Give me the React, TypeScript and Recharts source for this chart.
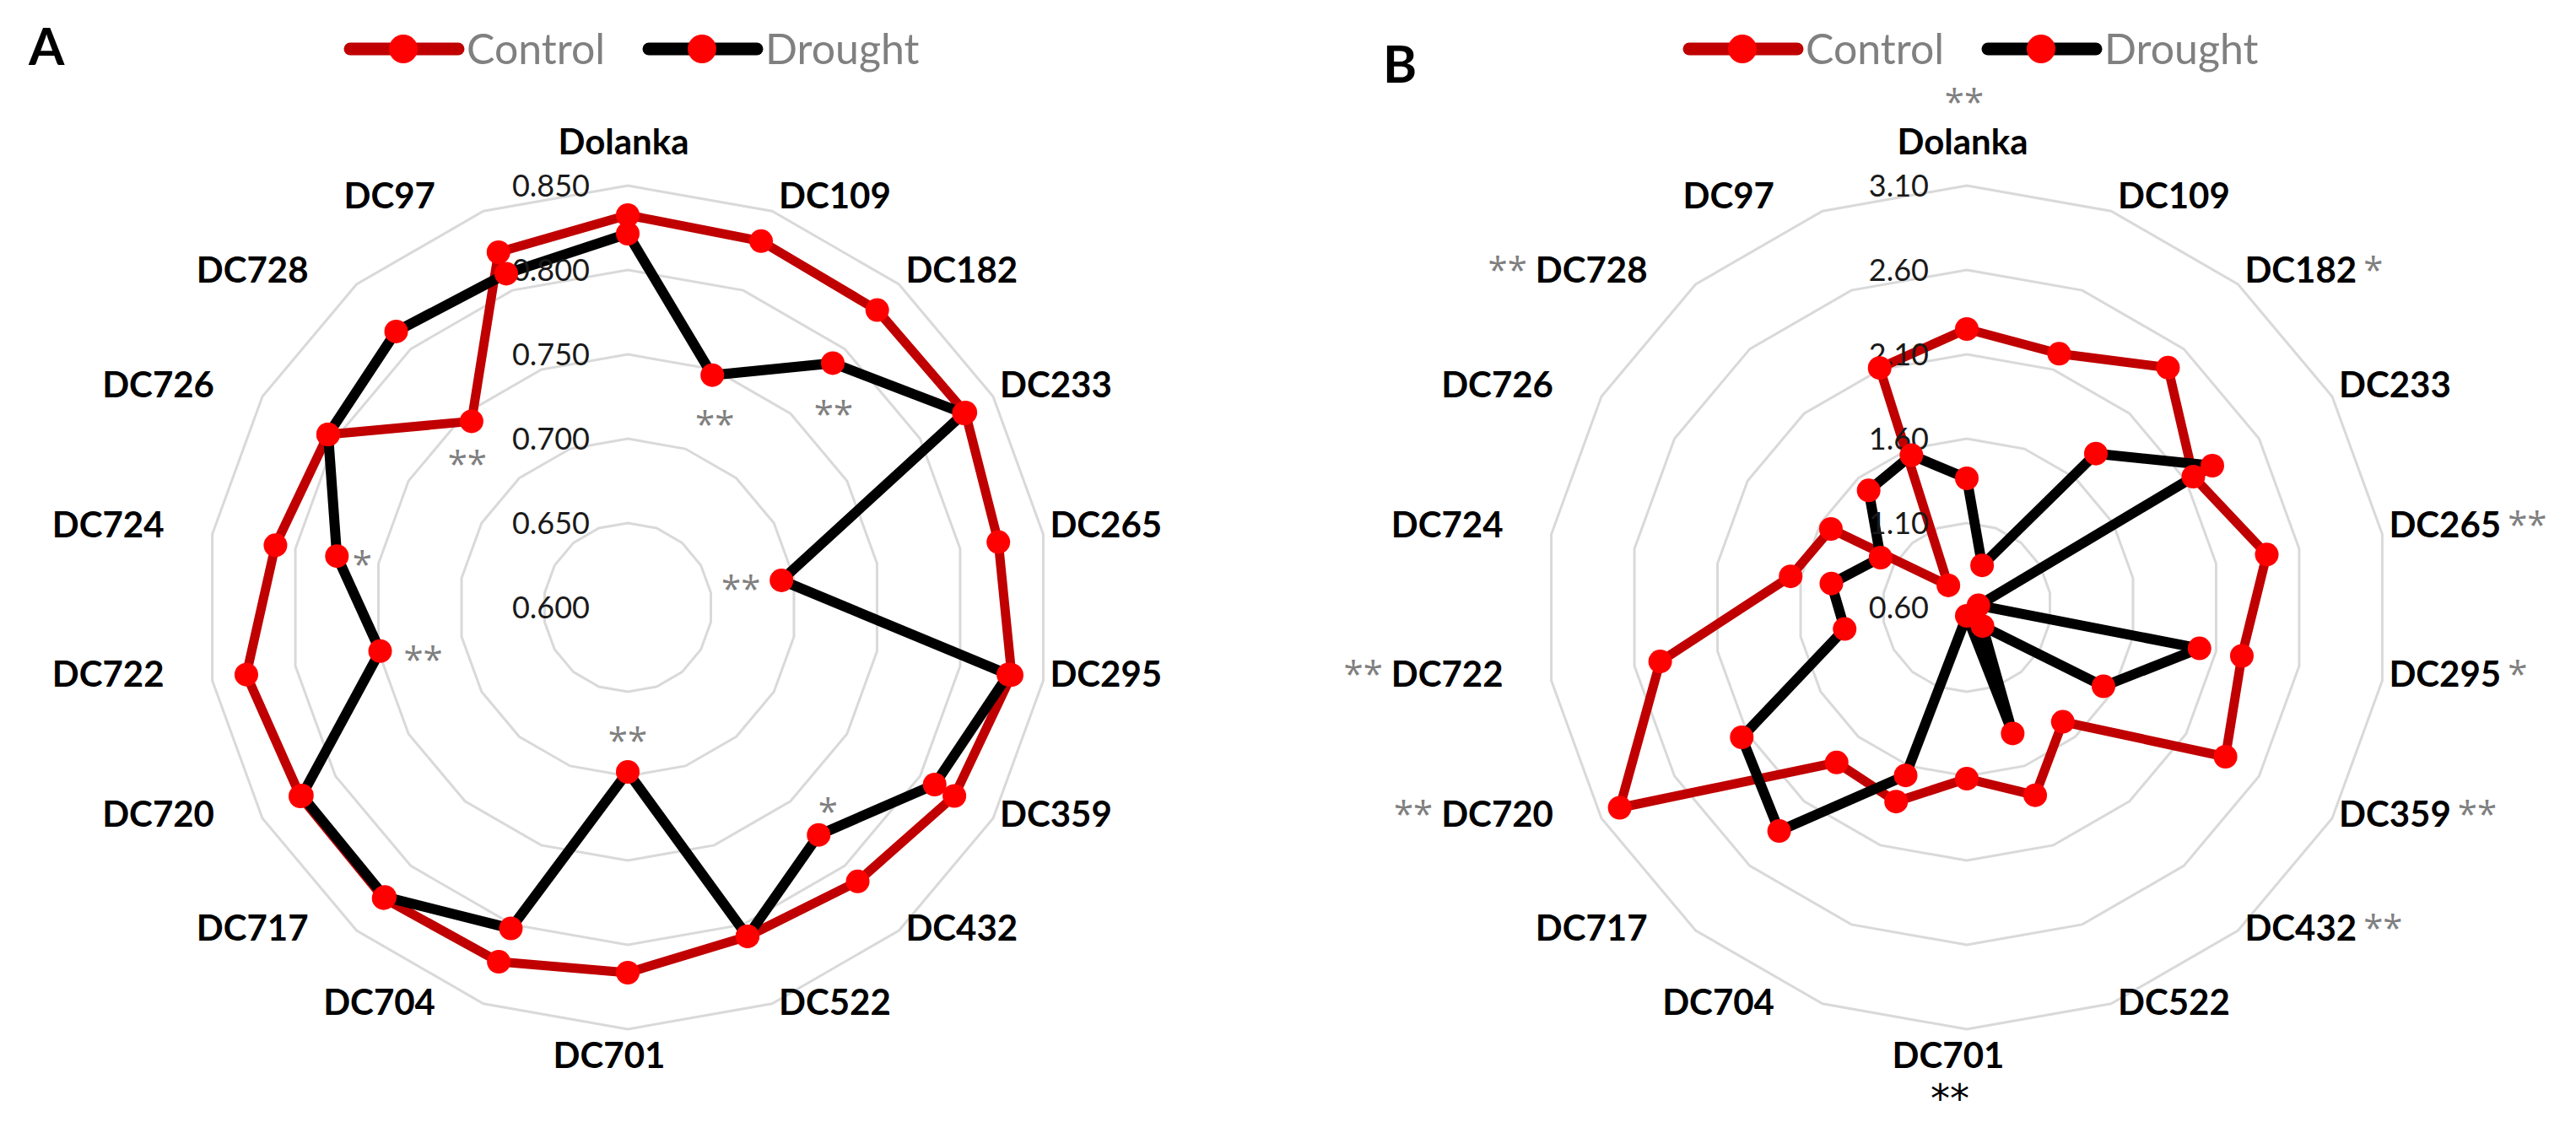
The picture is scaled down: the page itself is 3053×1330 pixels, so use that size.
import React from 'react';
import { RadarChart, Radar, PolarGrid, PolarAngleAxis, PolarRadiusAxis, Legend } from 'recharts';

const FONT = 'Lato, "Open Sans", sans-serif';
const STAR_FONT = '"Open Sans", "Noto Sans", sans-serif';
const STAR_FONT_BOTTOM = '"DejaVu Sans", sans-serif';

const categories = ['Dolanka', 'DC109', 'DC182', 'DC233', 'DC265', 'DC295', 'DC359', 'DC432', 'DC522', 'DC701', 'DC704', 'DC717', 'DC720', 'DC722', 'DC724', 'DC726', 'DC728', 'DC97'];
const seriesNames = ['Control', 'Drought'];

// Panel A
const controlA = [0.8325, 0.831, 0.83, 0.831, 0.823, 0.831, 0.8235, 0.812, 0.8075, 0.8165, 0.8235, 0.825, 0.824, 0.8295, 0.812, 0.805, 0.744, 0.824];
const droughtA = [0.8215, 0.7465, 0.789, 0.83, 0.6925, 0.829, 0.81, 0.776, 0.8075, 0.6975, 0.8025, 0.824, 0.823, 0.749, 0.775, 0.805, 0.8135, 0.8105];
const ticksA = [0.6, 0.65, 0.7, 0.75, 0.8, 0.85];
const sigA = ['', '**', '**', '', '**', '', '', '*', '', '**', '', '', '', '**', '*', '', '**', ''];

// Panel B
const controlB = [2.25, 2.2, 2.455, 2.15, 2.405, 2.255, 2.37, 1.485, 1.785, 1.615, 1.825, 1.8, 2.975, 2.445, 1.66, 1.53, 0.77, 2.11];
const droughtB = [1.365, 0.865, 1.79, 2.28, 0.67, 2.0, 1.535, 0.745, 1.395, 0.65, 1.66, 2.33, 2.14, 1.335, 1.415, 1.19, 1.505, 1.56];
const ticksB = [0.6, 1.1, 1.6, 2.1, 2.6, 3.1];
const sigB = ['**', '', '*', '', '**', '*', '**', '**', '', '**', '', '', '**', '**', '', '', '**', ''];

// layout of the point annotations in panel A (which series they sit next to, and offset)
const sigPlaceA: Record<number, { series: string; dx: number; dy: number }> = {
  1: { series: 'Drought', dx: 3, dy: 48 },
  2: { series: 'Drought', dx: 1, dy: 50 },
  4: { series: 'Drought', dx: -48, dy: 0 },
  7: { series: 'Drought', dx: 11, dy: -38 },
  9: { series: 'Drought', dx: 0, dy: -47 },
  13: { series: 'Drought', dx: 51, dy: 0 },
  14: { series: 'Drought', dx: 30, dy: 0 },
  16: { series: 'Control', dx: -5, dy: 40 },
};

const R = 500;
const CY = 720;
const A_LEFT = 0;
const A_W = 1530;
const A_CX = 744;
const B_LEFT = 1530;
const B_W = 1523;
const B_CX = 801;

const COLORS: Record<string, string> = { Control: '#C00000', Drought: '#000000' };
const MARKER = '#FF0000';
const GRAY = '#808080';

const LABEL_FS = 42;
const STAR_FS = 42;
const STAR_C = 0.6; // asterisk glyph centre above baseline, in em

const buildRows = (c: number[], d: number[]) =>
  categories.map((name, i) => ({ name, [seriesNames[0]]: c[i], [seriesNames[1]]: d[i] }));

const dataA = buildRows(controlA, droughtA);
const dataB = buildRows(controlB, droughtB);

function makeAngleTick(cx: number, cy: number, sig?: string[]) {
  return (props: any) => {
    const i: number = props.index;
    const label = String(props.payload.value);
    const n = categories.length;
    const th = ((i * 360) / n) * Math.PI / 180;
    const vx = cx + R * Math.sin(th);
    const vy = cy - R * Math.cos(th);
    const s = sig ? sig[i] : '';
    const base = { fontFamily: FONT, fontSize: LABEL_FS, fontWeight: 700, fill: '#000' } as any;
    const star = { fontFamily: STAR_FONT, fontSize: STAR_FS, fontWeight: 400, fill: GRAY } as any;
    const capOff = 0.36 * LABEL_FS;
    if (i === 0) {
      return (
        <g key={`t-${i}`}>
          <text x={vx - 5} y={vy - 52 + capOff} textAnchor="middle" {...base}>{label}</text>
          {s ? <text x={vx - 3} y={vy - 109 + STAR_C * STAR_FS} textAnchor="middle" {...star}>{s}</text> : null}
        </g>
      );
    }
    if (i === n / 2) {
      return (
        <g key={`t-${i}`}>
          <text x={vx - 22} y={vy + 31 + capOff} textAnchor="middle" {...base}>{label}</text>
          {s ? (
            <text x={vx - 20} y={vy + 98} textAnchor="middle" fontFamily={STAR_FONT_BOTTOM} fontSize={46} fill="#000">{s}</text>
          ) : null}
        </g>
      );
    }
    const yc = vy - 10 - 9 * Math.cos(th);
    if (i < n / 2) {
      return (
        <text key={`t-${i}`} x={vx + 8} y={yc + capOff} textAnchor="start" {...base}>
          {label}
          {s ? <tspan dx={8} {...star}>{s}</tspan> : null}
        </text>
      );
    }
    return (
      <text key={`t-${i}`} x={vx - 57} y={yc + capOff} textAnchor="end" {...base}>
        {s ? <tspan {...star}>{s}</tspan> : null}
        <tspan dx={s ? 10 : 0}>{label}</tspan>
      </text>
    );
  };
}

function makeRadiusTick(digits: number) {
  return (props: any) => {
    const { x, y, payload } = props;
    return (
      <text x={x - 45} y={y + 0.36 * 36} textAnchor="end" fontFamily={FONT} fontSize={36} fill="#1a1a1a">
        {Number(payload.value).toFixed(digits)}
      </text>
    );
  };
}

function makeDot(series: string, sig?: string[], place?: Record<number, { series: string; dx: number; dy: number }>) {
  return (props: any) => {
    const { cx, cy, index } = props;
    const p = place ? place[index] : undefined;
    const show = sig && p && p.series === series && sig[index];
    return (
      <g key={`${series}-dot-${index}`}>
        <circle cx={cx} cy={cy} r={14} fill={MARKER} stroke="none" />
        {show ? (
          <text x={cx + p!.dx} y={cy + p!.dy + STAR_C * STAR_FS} textAnchor="middle" fontFamily={STAR_FONT} fontSize={STAR_FS} fill={GRAY}>
            {sig![index]}
          </text>
        ) : null}
      </g>
    );
  };
}

const renderLegend = (props: any) => {
  const payload = props.payload || [];
  const order = seriesNames.map((nm) => payload.find((p: any) => p.value === nm) || { value: nm, color: COLORS[nm] });
  const slots = [0, 354];
  return (
    <svg width={760} height={100} style={{ overflow: 'visible' }}>
      {order.map((p: any, k: number) => (
        <g key={p.value} transform={`translate(${slots[k]},0)`}>
          <line x1={15} x2={143} y1={48} y2={48} stroke={COLORS[p.value]} strokeWidth={15} strokeLinecap="round" />
          <circle cx={78} cy={48} r={17} fill={MARKER} />
          <text x={153} y={48 + 0.36 * 50} fontFamily={FONT} fontSize={50} fill={GRAY}>{p.value}</text>
        </g>
      ))}
    </svg>
  );
};

function Panel(props: { data: any[]; cx: number; width: number; ticks: number[]; digits: number; sigLabels?: string[]; sigPoints?: string[]; legendLeft: number }) {
  const { data, cx, width, ticks, digits, sigLabels, sigPoints, legendLeft } = props;
  return (
    <RadarChart width={width} height={1330} data={data} cx={cx} cy={CY} outerRadius={R} margin={{ top: 0, right: 0, bottom: 0, left: 0 }}>
      <PolarGrid gridType="polygon" radialLines={false} stroke="#D9D9D9" strokeWidth={3} />
      <PolarAngleAxis dataKey="name" tick={makeAngleTick(cx, CY, sigLabels)} tickLine={false} axisLine={false} />
      <PolarRadiusAxis
        angle={90}
        type="number"
        scale="linear"
        domain={[ticks[0], ticks[ticks.length - 1]]}
        ticks={ticks}
        tickCount={ticks.length}
        allowDecimals
        allowDataOverflow
        axisLine={false}
        tickLine={false}
        tick={makeRadiusTick(digits)}
      />
      {seriesNames.map((nm) => (
        <Radar
          key={nm}
          name={nm}
          dataKey={nm}
          stroke={COLORS[nm]}
          strokeWidth={nm === 'Control' ? 11 : 12}
          strokeLinejoin="round"
          fill="none"
          fillOpacity={0}
          dot={makeDot(nm, sigPoints, sigPoints ? sigPlaceA : undefined)}
          isAnimationActive={false}
        />
      ))}
      <Legend content={renderLegend} wrapperStyle={{ position: 'absolute', left: legendLeft, top: 10, width: 760, height: 100 }} />
    </RadarChart>
  );
}

export default function App() {
  return (
    <div style={{ position: 'absolute', left: 0, top: 0, width: 3053, height: 1330, background: '#fff', overflow: 'hidden' }}>
      <div style={{ position: 'absolute', left: A_LEFT, top: 0 }}>
        <Panel data={dataA} cx={A_CX} width={A_W} ticks={ticksA} digits={3} sigPoints={sigA} legendLeft={400} />
      </div>
      <div style={{ position: 'absolute', left: B_LEFT, top: 0 }}>
        <Panel data={dataB} cx={B_CX} width={B_W} ticks={ticksB} digits={2} sigLabels={sigB} legendLeft={457} />
      </div>
      <svg width={3053} height={130} style={{ position: 'absolute', left: 0, top: 0, pointerEvents: 'none' }}>
        <text x={34} y={77} fontFamily={FONT} fontWeight={700} fontSize={61} fill="#000">A</text>
        <text x={1639} y={98} fontFamily={FONT} fontWeight={700} fontSize={61} fill="#000">B</text>
      </svg>
    </div>
  );
}
